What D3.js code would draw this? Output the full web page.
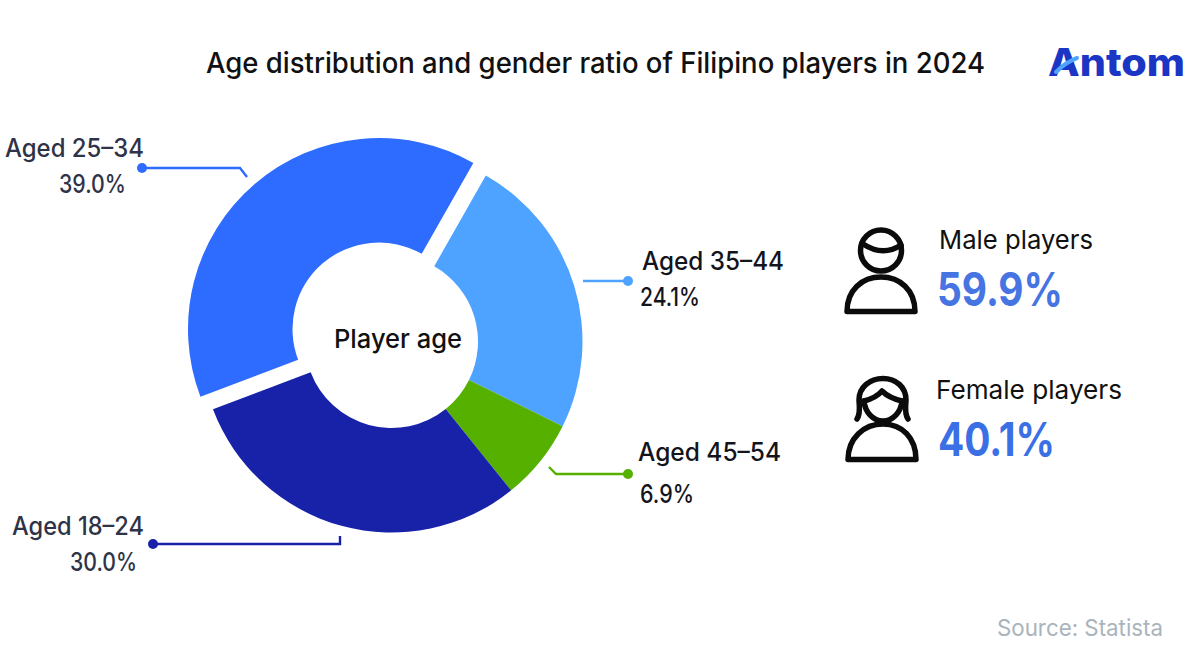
<!DOCTYPE html>
<html>
<head>
<meta charset="utf-8">
<script src="https://cdn.jsdelivr.net/npm/d3@7"></script>
<style>
  html, body { margin: 0; padding: 0; background: #fff; }
  svg { display: block; }
  text { font-family: Inter, "Noto Sans", sans-serif; }
</style>
</head>
<body>
<script>
// chart values
const ageGroups = ["Aged 35–44", "Aged 45–54", "Aged 18–24", "Aged 25–34"];
const ageShares = [24.1, 6.9, 30.0, 39.0];
const ageLabels = ["24.1%", "6.9%", "30.0%", "39.0%"];
const genderNames = ["Male players", "Female players"];
const genderLabels = ["59.9%", "40.1%"];

const sliceColors = ["#4DA3FF", "#55B000", "#1722A8", "#2E6BFF"];
const genderColors = ["#4674E2", "#3A6FE6"];

let svg = null;
let pieData = null;
const W = 1196, H = 650;
const outerR = 191, innerR = 86.5;
const startDeg = 29.6;

// the biggest slice is pulled out, the other three sit together
const sliceCenters = [
  [391.5, 341.5],
  [391.5, 341.5],
  [391.5, 341.5],
  [379, 329]
];

// callout layout, same order as ageGroups
const calloutPaths = [
  [[583, 281], [628, 281]],
  [[549, 467], [556, 474], [628, 474]],
  [[340, 536], [340, 544], [153, 544]],
  [[247, 177], [240, 168], [142, 168]]
];
const calloutNames = [
  {x: 642, y: 270, w: 142, color: "#14141c"},
  {x: 638, y: 461, w: 143, color: "#14141c"},
  {x: 12, y: 535, w: 132, color: "#2F3347"},
  {x: 5, y: 157, w: 139, color: "#2F3347"}
];
const calloutValues = [
  {x: 640, y: 306, w: 60, color: "#14141c"},
  {x: 640, y: 503, w: 54, color: "#14141c"},
  {x: 70, y: 571, w: 67, color: "#2F3347"},
  {x: 59, y: 193, w: 67, color: "#2F3347"}
];

appendSvg("body");
appendDonut();
appendCallouts();
appendTitle();
appendLogo();
appendGender();
appendSource();

function appendSvg(domElement) {
  svg = d3.select(domElement).append("svg")
    .attr("width", W)
    .attr("height", H);
}

// text helper, width is fitted to what the picture shows
function addText(str, x, y, size, weight, color, width) {
  return svg.append("text")
    .attr("x", x)
    .attr("y", y)
    .attr("font-size", size)
    .attr("font-weight", weight)
    .attr("fill", color)
    .attr("textLength", width)
    .attr("lengthAdjust", "spacingAndGlyphs")
    .text(str);
}

function appendDonut() {
  const start = startDeg * Math.PI / 180;
  pieData = d3.pie()
    .sort(null)
    .value(d => d)
    .startAngle(start)
    .endAngle(start + 2 * Math.PI)(ageShares);

  const arc = d3.arc().innerRadius(innerR).outerRadius(outerR);

  svg.append("g")
    .selectAll("path")
    .data(pieData)
    .enter()
    .append("path")
    .attr("transform", (d, i) => `translate(${sliceCenters[i][0]}, ${sliceCenters[i][1]})`)
    .attr("d", arc)
    .attr("fill", (d, i) => sliceColors[i]);

  addText("Player age", 334, 348, 26, 500, "#111", 128);
}

function appendCallouts() {
  const line = d3.line();
  ageGroups.forEach((name, i) => {
    const pts = calloutPaths[i];
    const end = pts[pts.length - 1];
    svg.append("path")
      .attr("d", line(pts))
      .attr("fill", "none")
      .attr("stroke", sliceColors[i])
      .attr("stroke-width", 2.4);
    svg.append("circle")
      .attr("cx", end[0]).attr("cy", end[1]).attr("r", 5)
      .attr("fill", sliceColors[i]);
    const n = calloutNames[i], v = calloutValues[i];
    addText(name, n.x, n.y, 25, 500, n.color, n.w);
    addText(ageLabels[i], v.x, v.y, 25, 500, v.color, v.w);
  });
}

function appendTitle() {
  addText("Age distribution and gender ratio of Filipino players in 2024",
    206, 73, 28.5, 500, "#111", 779);
}

function appendLogo() {
  addText("Antom", 1048, 76, 38, 800, "#1B35C4", 137);
  svg.append("path")
    .attr("d", "M1056,72 Q1066,62 1077,58")
    .attr("fill", "none")
    .attr("stroke", "#4DA3FF")
    .attr("stroke-width", 4)
    .attr("stroke-linecap", "round");
}

function appendGender() {
  const icon = svg.append("g")
    .attr("fill", "none")
    .attr("stroke", "#0b0b0b")
    .attr("stroke-width", 5.5)
    .attr("stroke-linecap", "round")
    .attr("stroke-linejoin", "round");

  // male: head, fringe, shoulders
  icon.append("circle").attr("cx", 881).attr("cy", 250.5).attr("r", 20.5);
  icon.append("path").attr("d", "M863,244 Q883,257 901,245");
  icon.append("path").attr("d", "M847,311.5 C847,290 862,277 881,277 C900,277 915,290 915,311.5 Z");

  // female: hair, fringe, chin, shoulders
  icon.append("path").attr("d", "M857,419 C861,413 859,405 859,400 C859,387 870,378.5 883,378.5 C896,378.5 906,387 906,400 C906,405 904,413 908,419");
  icon.append("path").attr("d", "M864,401 Q876,398 882,391 Q889,398 902,401");
  icon.append("path").attr("d", "M864,401 C865,412 873,421 883,421 C893,421 901,412 902,401");
  icon.append("path").attr("d", "M848,459.5 C848,438 864,424 883,424 C902,424 916,438 916,459.5 Z");

  addText(genderNames[0], 939, 249, 26, 400, "#111", 154);
  addText(genderLabels[0], 937, 306, 46, 700, genderColors[0], 126);
  addText(genderNames[1], 936, 399, 26, 400, "#111", 186);
  addText(genderLabels[1], 938, 456, 46, 700, genderColors[1], 117);
}

function appendSource() {
  addText("Source: Statista", 997, 636, 23, 400, "#A9B4BD", 166);
}
</script>
</body>
</html>
